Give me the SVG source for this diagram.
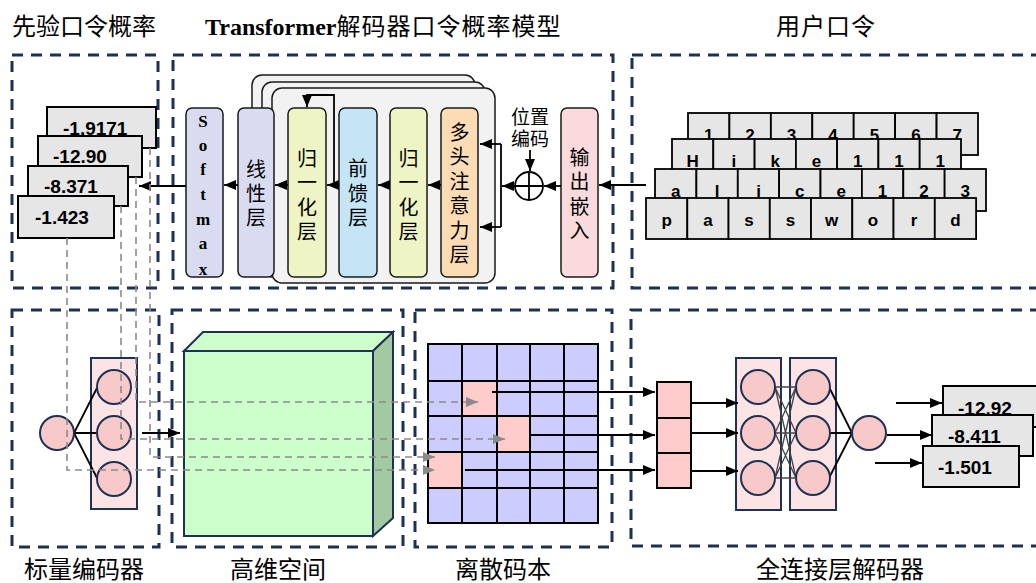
<svg xmlns="http://www.w3.org/2000/svg" width="1036" height="583" viewBox="0 0 1036 583">
<defs>
<marker id="a" viewBox="0 0 12 10" refX="12" refY="5" markerWidth="12" markerHeight="10" markerUnits="userSpaceOnUse" orient="auto"><path d="M0,0 L12,5 L0,10 z" fill="#000"/></marker>
<marker id="ag" viewBox="0 0 12 10" refX="12" refY="5" markerWidth="12" markerHeight="10" markerUnits="userSpaceOnUse" orient="auto"><path d="M0,0 L12,5 L0,10 z" fill="#8a8a8a"/></marker>
</defs>
<style>
.dash{fill:none;stroke:#1f3055;stroke-width:3;stroke-dasharray:11 8}
.t{font-family:"Noto Sans CJK SC","Noto Sans CJK TC",sans-serif;font-size:24px;fill:#000;text-anchor:middle}
.v{font-family:"Noto Sans CJK SC","Noto Sans CJK TC",sans-serif;font-size:20px;text-anchor:middle;fill:#000}
.sm{font-family:"Liberation Serif","Times New Roman",serif;font-weight:bold;font-size:17px;text-anchor:middle}
.ln{stroke:#000;stroke-width:1.8;fill:none}
.gl{stroke:#8a8a8a;stroke-width:1.6;stroke-dasharray:7 5;fill:none}
.pb{fill:#e6e6e6;stroke:#000;stroke-width:2}
.num{font-family:"Liberation Sans",Arial,sans-serif;font-weight:bold;font-size:19px}
.cell{fill:#e6e6e6;stroke:#000;stroke-width:1.8}
.ch{font-family:"Liberation Sans",Arial,sans-serif;font-weight:bold;font-size:17px;text-anchor:middle}
.nd{fill:#f8c9c9;stroke:#1f3055;stroke-width:2}
.lay{fill:#fde4e4;stroke:#1f3055;stroke-width:2}
.blk{stroke:#1a1a1a;stroke-width:1.5;rx:6;ry:6}
.cb{fill:#ccccff;stroke:#000;stroke-width:2}
.cp{fill:#ffcccc;stroke:#000;stroke-width:2}
</style>

<!-- titles -->
<g id="titles">
<text class="t" x="84" y="35">先验口令概率</text>
<text x="205" y="35" style="font-size:24px"><tspan style="font-family:'Liberation Serif','Times New Roman',serif;font-weight:bold">Transformer</tspan><tspan style="font-family:'Noto Sans CJK SC',sans-serif;letter-spacing:1px">解码器口令概率模型</tspan></text>
<text class="t" x="826" y="35" style="letter-spacing:1px">用户口令</text>
<text class="t" x="84" y="578">标量编码器</text>
<text class="t" x="278" y="578">高维空间</text>
<text class="t" x="503" y="578">离散码本</text>
<text class="t" x="840" y="578">全连接层解码器</text>
</g>

<!-- dashed frames -->
<g id="frames">
<rect class="dash" x="12" y="55" width="146" height="233"/>
<rect class="dash" x="173" y="55" width="440" height="233"/>
<rect class="dash" x="632" y="55" width="420" height="233"/>
<rect class="dash" x="12" y="310" width="147" height="237"/>
<rect class="dash" x="172" y="310" width="231" height="237"/>
<rect class="dash" x="415" y="310" width="197" height="237"/>
<rect class="dash" x="631" y="310" width="420" height="236"/>
</g>

<!-- prior probabilities -->
<g id="prior-probs">
<rect class="pb" x="47" y="107" width="109" height="41"/>
<text class="num" x="63" y="135">-1.9171</text>
<rect class="pb" x="38" y="136" width="104" height="41"/>
<text class="num" x="53" y="163">-12.90</text>
<rect class="pb" x="28" y="166" width="100" height="40"/>
<text class="num" x="44" y="193">-8.371</text>
<rect class="pb" x="18" y="196" width="96" height="42"/>
<text class="num" x="35" y="224">-1.423</text>
</g>

<!-- transformer -->
<g id="transformer-stack">
<rect x="252" y="75" width="223" height="195" rx="10" fill="#f2f2f2" stroke="#1a1a1a" stroke-width="1.5"/>
<rect x="262" y="82" width="223" height="195" rx="10" fill="#f2f2f2" stroke="#1a1a1a" stroke-width="1.5"/>
<rect x="272" y="88" width="223" height="195" rx="10" fill="#f2f2f2" stroke="#1a1a1a" stroke-width="1.5"/>
</g>
<g id="softmax">
<rect class="blk" x="186" y="108" width="37" height="169" fill="#d9dcf0"/>
<text class="sm" x="203"><tspan x="203" y="127">S</tspan><tspan x="203" y="151">o</tspan><tspan x="203" y="175">f</tspan><tspan x="203" y="200">t</tspan><tspan x="203" y="225">m</tspan><tspan x="203" y="249">a</tspan><tspan x="203" y="275">x</tspan></text>
</g>
<g id="linear">
<rect class="blk" x="238" y="108" width="36" height="169" fill="#d9dcf0"/>
<text class="v"><tspan x="256" y="177">线</tspan><tspan x="256" y="201">性</tspan><tspan x="256" y="225">层</tspan></text>
</g>
<g id="norm2">
<rect class="blk" x="288" y="108" width="38" height="169" fill="#eef4c4"/>
<text class="v"><tspan x="307" y="166">归</tspan><tspan x="307" y="190">一</tspan><tspan x="307" y="215">化</tspan><tspan x="307" y="239">层</tspan></text>
</g>
<g id="ffn">
<rect class="blk" x="339" y="108" width="38" height="169" fill="#c4e5f5"/>
<text class="v"><tspan x="358" y="176">前</tspan><tspan x="358" y="201">馈</tspan><tspan x="358" y="225">层</tspan></text>
</g>
<g id="norm1">
<rect class="blk" x="390" y="108" width="37" height="169" fill="#eef4c4"/>
<text class="v"><tspan x="408.5" y="166">归</tspan><tspan x="408.5" y="190">一</tspan><tspan x="408.5" y="215">化</tspan><tspan x="408.5" y="239">层</tspan></text>
</g>
<g id="mha">
<rect class="blk" x="441" y="108" width="37" height="169" fill="#fcdcb5"/>
<text class="v"><tspan x="459.5" y="139.5">多</tspan><tspan x="459.5" y="164">头</tspan><tspan x="459.5" y="188.5">注</tspan><tspan x="459.5" y="213">意</tspan><tspan x="459.5" y="238">力</tspan><tspan x="459.5" y="262">层</tspan></text>
</g>
<g id="posenc">
<text class="v" style="font-size:19px"><tspan x="530" y="124">位置</tspan><tspan x="530" y="146">编码</tspan></text>
</g>
<g id="add">
<circle cx="529" cy="186" r="14" fill="#fff" stroke="#000" stroke-width="1.8"/>
<path d="M515,186 H543 M529,172 V200" stroke="#000" stroke-width="1.8"/>
</g>
<g id="out-embed">
<rect class="blk" x="561" y="108" width="37" height="169" fill="#fadadd"/>
<text class="v"><tspan x="579.5" y="164.5">输</tspan><tspan x="579.5" y="189">出</tspan><tspan x="579.5" y="214">嵌</tspan><tspan x="579.5" y="238">入</tspan></text>
</g>

<!-- user passwords -->
<g id="passwords">
<g id="row1">
<rect class="cell" x="688" y="113" width="41.4" height="42"/><rect class="cell" x="729.4" y="113" width="41.4" height="42"/><rect class="cell" x="770.9" y="113" width="41.4" height="42"/><rect class="cell" x="812.3" y="113" width="41.4" height="42"/><rect class="cell" x="853.7" y="113" width="41.4" height="42"/><rect class="cell" x="895.1" y="113" width="41.4" height="42"/><rect class="cell" x="936.6" y="113" width="41.4" height="42"/>
<text class="ch" y="141"><tspan x="708.7">1</tspan><tspan x="750.1">2</tspan><tspan x="791.6">3</tspan><tspan x="833">4</tspan><tspan x="874.4">5</tspan><tspan x="915.9">6</tspan><tspan x="957.3">7</tspan></text>
</g>
<g id="row2">
<rect class="cell" x="672" y="139" width="41.3" height="42"/><rect class="cell" x="713.3" y="139" width="41.3" height="42"/><rect class="cell" x="754.6" y="139" width="41.3" height="42"/><rect class="cell" x="795.9" y="139" width="41.3" height="42"/><rect class="cell" x="837.1" y="139" width="41.3" height="42"/><rect class="cell" x="878.4" y="139" width="41.3" height="42"/><rect class="cell" x="919.7" y="139" width="41.3" height="42"/>
<text class="ch" y="167"><tspan x="692.6">H</tspan><tspan x="733.9">i</tspan><tspan x="775.2">k</tspan><tspan x="816.5">e</tspan><tspan x="857.7">1</tspan><tspan x="899">1</tspan><tspan x="940.3">1</tspan></text>
</g>
<g id="row3">
<rect class="cell" x="655" y="169" width="41.4" height="42"/><rect class="cell" x="696.4" y="169" width="41.4" height="42"/><rect class="cell" x="737.8" y="169" width="41.4" height="42"/><rect class="cell" x="779.1" y="169" width="41.4" height="42"/><rect class="cell" x="820.5" y="169" width="41.4" height="42"/><rect class="cell" x="861.9" y="169" width="41.4" height="42"/><rect class="cell" x="903.3" y="169" width="41.4" height="42"/><rect class="cell" x="944.6" y="169" width="41.4" height="42"/>
<text class="ch" y="197"><tspan x="675.7">a</tspan><tspan x="717.1">l</tspan><tspan x="758.5">i</tspan><tspan x="799.8">c</tspan><tspan x="841.2">e</tspan><tspan x="882.6">1</tspan><tspan x="924">2</tspan><tspan x="965.3">3</tspan></text>
</g>
<g id="row4">
<rect class="cell" x="646" y="198" width="41.3" height="41"/><rect class="cell" x="687.3" y="198" width="41.3" height="41"/><rect class="cell" x="728.5" y="198" width="41.3" height="41"/><rect class="cell" x="769.8" y="198" width="41.3" height="41"/><rect class="cell" x="811" y="198" width="41.3" height="41"/><rect class="cell" x="852.3" y="198" width="41.3" height="41"/><rect class="cell" x="893.5" y="198" width="41.3" height="41"/><rect class="cell" x="934.8" y="198" width="41.3" height="41"/>
<text class="ch" y="226"><tspan x="666.6">p</tspan><tspan x="707.9">a</tspan><tspan x="749.1">s</tspan><tspan x="790.4">s</tspan><tspan x="831.6">w</tspan><tspan x="872.9">o</tspan><tspan x="914.1">r</tspan><tspan x="955.4">d</tspan></text>
</g>
</g>

<!-- scalar encoder -->
<g id="scalar-encoder">
<rect class="lay" x="91" y="358" width="46" height="151"/>
<path d="M74,433 L97,388 M74,433 H97 M74,433 L97,478" stroke="#000" stroke-width="1.8"/>
<circle class="nd" cx="57" cy="433" r="17"/>
<circle class="nd" cx="114" cy="387" r="17"/>
<circle class="nd" cx="114" cy="433" r="17"/>
<circle class="nd" cx="114" cy="479" r="17"/>
</g>

<!-- high-dimensional space -->
<g id="hidim-cube">
<polygon points="184,351 203,332 393,332 373,351" fill="#ccffcc" stroke="#1f3055" stroke-width="2"/>
<polygon points="373,351 393,332 393,518 373,536" fill="#a3c9a3" stroke="#1f3055" stroke-width="2"/>
<rect x="184" y="351" width="189" height="185" fill="#ccffcc" stroke="#1f3055" stroke-width="2"/>
</g>

<!-- codebook -->
<g id="codebook">
<rect class="cb" x="428" y="344" width="170" height="179"/>
<rect class="cp" x="462" y="381" width="35" height="35"/>
<rect class="cp" x="497" y="416" width="33" height="36"/>
<rect class="cp" x="428" y="452" width="34" height="36"/>
<path d="M462,344 V523 M497,344 V523 M530,344 V523 M564,344 V523 M428,381 H598 M428,416 H598 M428,452 H598 M428,488 H598" stroke="#000" stroke-width="2"/>
</g>

<!-- FC decoder -->
<g id="fc-input">
<rect class="cp" x="657" y="382" width="34" height="36"/>
<rect class="cp" x="657" y="418" width="34" height="35"/>
<rect class="cp" x="657" y="453" width="34" height="35"/>
</g>
<g id="fc-layers">
<rect class="lay" x="736" y="358" width="45" height="152"/>
<rect class="lay" x="790" y="358" width="46" height="152"/>
<path d="M775,387 L796,387 M775,387 L796,433 M775,387 L796,478 M775,433 L796,387 M775,433 L796,433 M775,433 L796,478 M775,478 L796,387 M775,478 L796,433 M775,478 L796,478" stroke="#444" stroke-width="1.3"/>
<path d="M829,387 L852,433 M829,433 H852 M829,478 L852,433" stroke="#000" stroke-width="1.8"/>
<circle class="nd" cx="758" cy="387" r="17"/>
<circle class="nd" cx="758" cy="433" r="17"/>
<circle class="nd" cx="758" cy="478" r="17"/>
<circle class="nd" cx="813" cy="387" r="17"/>
<circle class="nd" cx="813" cy="433" r="17"/>
<circle class="nd" cx="813" cy="478" r="17"/>
<circle class="nd" cx="869" cy="433" r="17"/>
</g>
<g id="fc-output">
<rect class="pb" x="943" y="386" width="98" height="41"/>
<text class="num" x="958" y="415">-12.92</text>
<rect class="pb" x="932" y="415" width="101" height="41"/>
<text class="num" x="948" y="443">-8.411</text>
<rect class="pb" x="923" y="446" width="96" height="41"/>
<text class="num" x="938" y="474">-1.501</text>
</g>

<!-- connectors -->
<g id="connectors">
<line class="ln" x1="646" y1="185" x2="599" y2="185" marker-end="url(#a)"/>
<line class="ln" x1="561" y1="186" x2="544" y2="186" marker-end="url(#a)"/>
<line class="ln" x1="530" y1="150" x2="530" y2="171" marker-end="url(#a)"/>
<line class="ln" x1="515" y1="186" x2="502" y2="186" marker-end="url(#a)"/>
<path class="ln" d="M501,144 V227"/>
<line class="ln" x1="501" y1="144" x2="480" y2="144" marker-end="url(#a)"/>
<line class="ln" x1="501" y1="227" x2="480" y2="227" marker-end="url(#a)"/>
<line class="ln" x1="441" y1="185" x2="428" y2="185" marker-end="url(#a)"/>
<line class="ln" x1="390" y1="185" x2="378" y2="185" marker-end="url(#a)"/>
<line class="ln" x1="339" y1="185" x2="327" y2="185" marker-end="url(#a)"/>
<path class="ln" d="M334,185 V95 H307 V107" marker-end="url(#a)"/>
<line class="ln" x1="288" y1="185" x2="275" y2="185" marker-end="url(#a)"/>
<line class="ln" x1="238" y1="185" x2="224" y2="185" marker-end="url(#a)"/>
<line class="ln" x1="186" y1="186" x2="139" y2="186" marker-end="url(#a)"/>

<line class="ln" x1="142" y1="433" x2="180" y2="433" marker-end="url(#a)"/>

<path class="gl" d="M67,238 V470 H435" marker-end="url(#ag)"/>
<path class="gl" d="M121,206 V439 H505" marker-end="url(#ag)"/>
<path class="gl" d="M136,177 V402 H478" marker-end="url(#ag)"/>
<path class="gl" d="M150,148 V457 H435" marker-end="url(#ag)"/>

<line class="ln" x1="492" y1="392" x2="655" y2="392" marker-end="url(#a)"/>
<line class="ln" x1="530" y1="435" x2="655" y2="435" marker-end="url(#a)"/>
<line class="ln" x1="465" y1="470" x2="655" y2="470" marker-end="url(#a)"/>

<line class="ln" x1="691" y1="403" x2="738" y2="403" marker-end="url(#a)"/>
<line class="ln" x1="691" y1="433" x2="738" y2="433" marker-end="url(#a)"/>
<line class="ln" x1="691" y1="471" x2="738" y2="471" marker-end="url(#a)"/>

<line class="ln" x1="887" y1="435" x2="932" y2="435" marker-end="url(#a)"/>
<line class="ln" x1="896" y1="403" x2="942" y2="403" marker-end="url(#a)"/>
<line class="ln" x1="875" y1="463" x2="922" y2="463" marker-end="url(#a)"/>
</g>
</svg>
